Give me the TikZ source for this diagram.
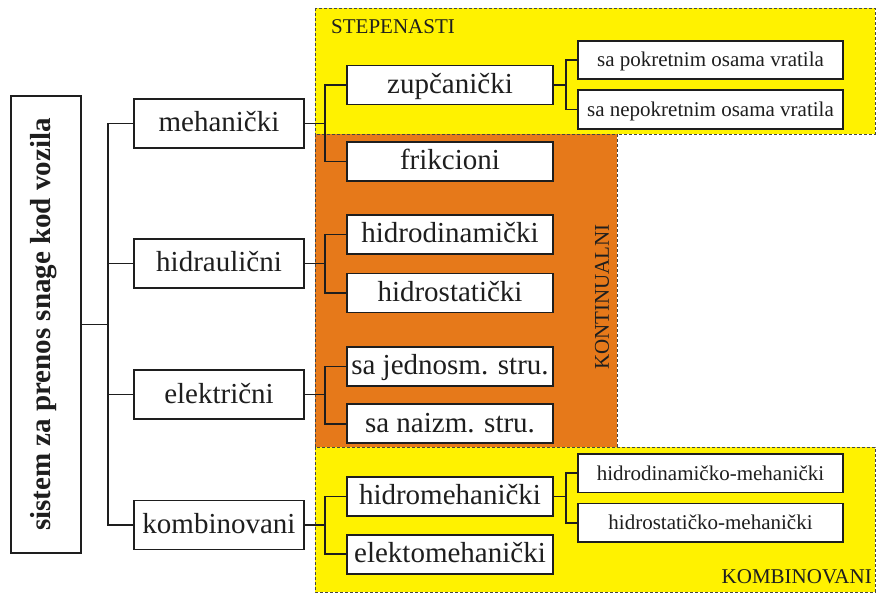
\documentclass[tikz,border=0pt]{standalone}
\usepackage{fontspec}
\setmainfont{Liberation Serif}
\definecolor{ylw}{RGB}{255,242,0}
\definecolor{org}{RGB}{230,121,26}
\definecolor{ink}{RGB}{30,30,30}
\begin{document}
\begin{tikzpicture}[x=1pt,y=-1pt,
  box/.style={draw=ink, line width=1.6pt, fill=white, inner sep=0pt, text=ink},
  big/.style={box, font=\fontsize{29}{30}\selectfont, text height=21pt, text depth=4pt},
  lvlone/.style={big, minimum width=170pt, minimum height=49pt},
  lvltwo/.style={big, minimum width=206pt, minimum height=39pt},
  lvlthree/.style={box, font=\fontsize{21}{22}\selectfont, text height=16pt, text depth=2pt, minimum width=265pt, minimum height=38.5pt},
  region/.style={draw=gray!55!black, dash pattern=on 3pt off 2pt, line width=0.8pt},
  lbl/.style={font=\fontsize{21}{22}\selectfont, text=ink, inner sep=0pt},
  conn/.style={draw=ink, line width=1.6pt, line join=miter}]
\useasboundingbox (0,0) rectangle (877,593);
% regions
\path[region, fill=ylw] (315,8) rectangle (875,134);
\path[region, fill=org] (315,134) rectangle (617,447);
\path[region, fill=ylw] (315,447) rectangle (875,592);
\node[lbl, anchor=west] (lstep) at (331,27) {STEPENASTI};
\node[lbl, rotate=90] (lkont) at (602,297) {KONTINUALNI};
\node[lbl, anchor=east] (lkomb) at (872,577) {KOMBINOVANI};
% main
\node[box, rotate=90, minimum width=457pt, minimum height=70pt,
      font=\bfseries\fontsize{29}{30}\selectfont, text height=20pt, text depth=12pt]
      (main) at (46,324.5) {sistem za prenos snage kod vozila};
% level 1
\node[lvlone] (meh) at (219,123.5) {mehanički};
\node[lvlone] (hid) at (219,263.5) {hidraulični};
\node[lvlone] (ele) at (219,394.5) {električni};
\node[lvlone] (kom) at (219,525) {kombinovani};
% level 2
\node[lvltwo] (zup) at (450,85) {zupčanički};
\node[lvltwo] (fri) at (450,161.5) {frikcioni};
\node[lvltwo] (hdin) at (450,234.5) {hidrodinamički};
\node[lvltwo] (hsta) at (450,293) {hidrostatički};
\node[lvltwo] (jed) at (450,366.3) {sa jednosm. stru.};
\node[lvltwo] (nai) at (450,423.7) {sa naizm. stru.};
\node[lvltwo] (hmeh) at (450,496.3) {hidromehanički};
\node[lvltwo] (emeh) at (450,554.2) {elektomehanički};
% level 3
\node[lvlthree] (pok) at (710.5,60) {sa pokretnim osama vratila};
\node[lvlthree] (nep) at (710.5,109.5) {sa nepokretnim osama vratila};
\node[lvlthree] (hdm) at (710.5,473.2) {hidrodinamičko-mehanički};
\node[lvlthree] (hsm) at (710.5,522.8) {hidrostatičko-mehanički};
% bus coordinates
\coordinate (b0) at (108,324.5);
\coordinate (b1) at (325,123.5);
\coordinate (b2) at (325,263.5);
\coordinate (b3) at (325,394.5);
\coordinate (b4) at (325,525);
\coordinate (b5) at (566,85);
\coordinate (b6) at (566,496.3);
% connectors
\draw[conn] (main.south) -- (b0) (meh.west) -| (b0) (hid.west) -| (b0) (ele.west) -| (b0) (kom.west) -| (b0);
\draw[conn] (meh.east) -- (b1) (zup.west) -| (b1) (fri.west) -| (b1);
\draw[conn] (hid.east) -- (b2) (hdin.west) -| (b2) (hsta.west) -| (b2);
\draw[conn] (ele.east) -- (b3) (jed.west) -| (b3) (nai.west) -| (b3);
\draw[conn] (kom.east) -- (b4) (hmeh.west) -| (b4) (emeh.west) -| (b4);
\draw[conn] (zup.east) -- (b5) (pok.west) -| (b5) (nep.west) -| (b5);
\draw[conn] (hmeh.east) -- (b6) (hdm.west) -| (b6) (hsm.west) -| (b6);
\end{tikzpicture}
\end{document}
